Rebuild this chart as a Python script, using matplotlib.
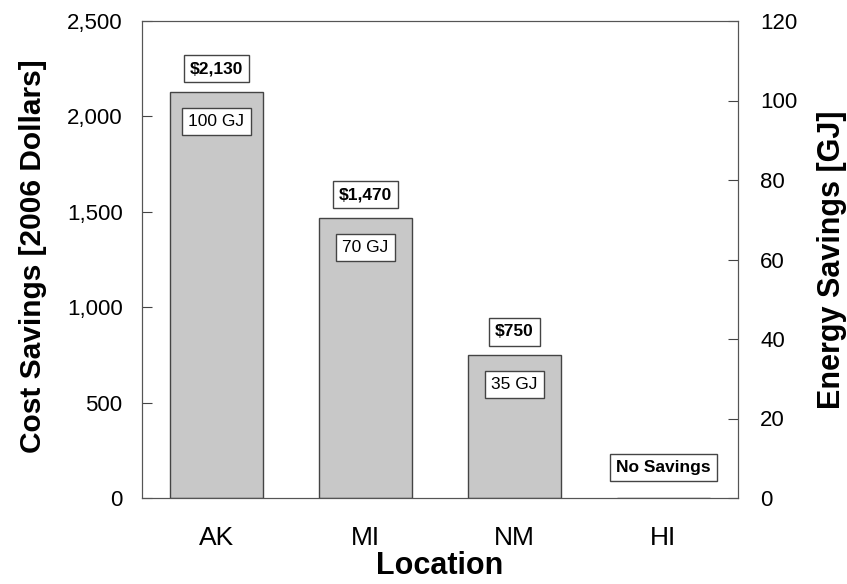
import matplotlib.pyplot as plt
from matplotlib.ticker import FuncFormatter

locations = ["AK", "MI", "NM", "HI"]
cost_savings = [2130, 1470, 750, 0]
energy_savings = [100, 70, 35, 0]

plt.rcParams['font.family'] = ['Liberation Sans', 'DejaVu Sans']

fig = plt.figure(figsize=(8.47, 5.84), dpi=100)
ax = fig.add_axes([142/847, 1-498/584, 596/847, 477/584])

x = range(len(locations))
ax.bar(x, cost_savings, width=0.62, color="#c8c8c8", edgecolor="#444444", linewidth=1)

ax.set_xlim(-0.5, 3.5)
ax.set_ylim(0, 2500)
ax.set_yticks([0, 500, 1000, 1500, 2000, 2500])
ax.yaxis.set_major_formatter(FuncFormatter(lambda v, p: f"{int(v):,}"))
ax.set_xticks(list(x))
ax.set_xticklabels(locations)
ax.tick_params(axis="y", direction="in", length=7, labelsize=16, pad=14, color="#444444")
ax.tick_params(axis="x", length=0, labelsize=19, pad=20)
for s in ax.spines.values():
    s.set_color("#555555")

ax2 = ax.twinx()
ax2.set_ylim(0, 120)
ax2.set_yticks([0, 20, 40, 60, 80, 100, 120])
ax2.tick_params(axis="y", direction="in", length=7, labelsize=16, pad=16, color="#444444")
for s in ax2.spines.values():
    s.set_color("#555555")

# axis titles
fig.text(440/847, 1-566/584, "Location", fontsize=22, fontweight="bold", ha="center", va="center")
fig.text(33/847, 1-256/584, "Cost Savings [2006 Dollars]", fontsize=21.5, fontweight="bold",
         rotation=90, ha="center", va="center")
fig.text(832/847, 1-260/584, "Energy Savings [GJ]", fontsize=22, fontweight="bold",
         rotation=90, ha="center", va="center")

box = dict(boxstyle="square,pad=0.35", facecolor="white", edgecolor="#444444", linewidth=1)
for i, (c, e) in enumerate(zip(cost_savings, energy_savings)):
    if c > 0:
        ax.annotate(f"${c:,}", (i, c), xytext=(0, 16.5), textcoords="offset points",
                    ha="center", va="center", fontsize=12.5, fontweight="bold", bbox=box)
        ax.annotate(f"{e} GJ", (i, c), xytext=(0, -21.5), textcoords="offset points",
                    ha="center", va="center", fontsize=12.5, bbox=box)
    else:
        ax.annotate("No Savings", (i, c), xytext=(0, 22), textcoords="offset points",
                    ha="center", va="center", fontsize=12.5, fontweight="bold", bbox=box)

fig.savefig("out.png", dpi=100)
